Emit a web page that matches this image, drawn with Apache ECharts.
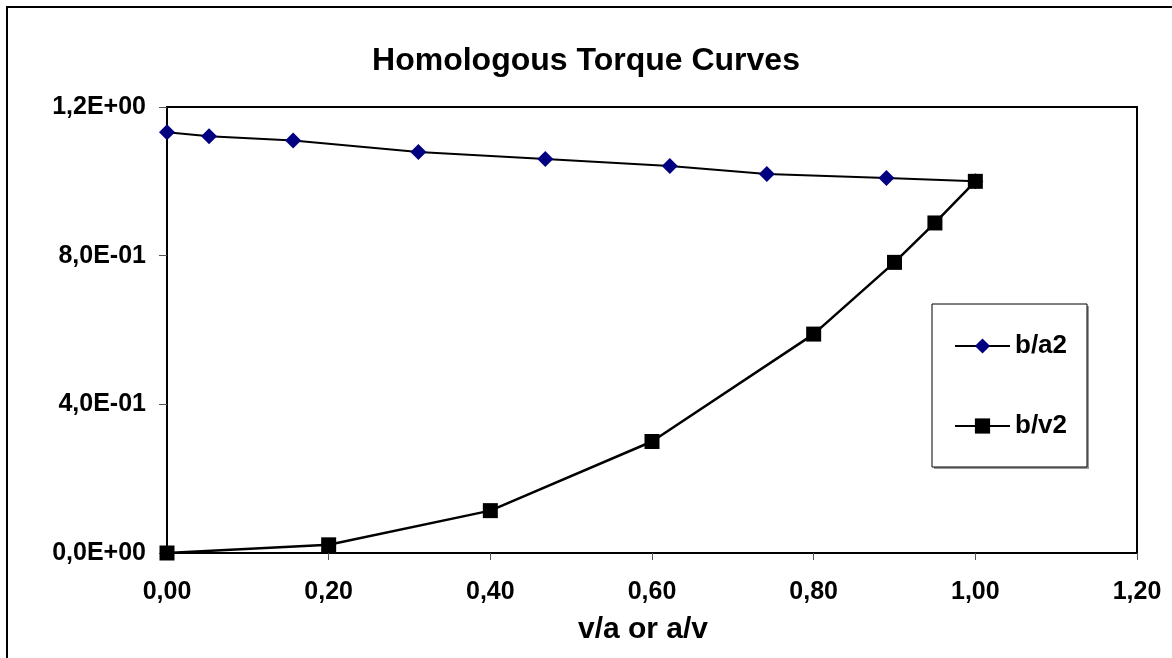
<!DOCTYPE html>
<html>
<head>
<meta charset="utf-8">
<script src="https://cdn.jsdelivr.net/npm/echarts@6/dist/echarts.min.js"></script>
<style>
  html, body { margin: 0; padding: 0; background: #fff; }
  #chart { width: 1172px; height: 658px; }
</style>
</head>
<body>
<div id="chart"></div>
<script>
// values
const baX = [0, 0.052, 0.156, 0.311, 0.468, 0.622, 0.742, 0.89, 1.0];
const baY = [1.132, 1.121, 1.11, 1.079, 1.06, 1.041, 1.02, 1.009, 1.0];
const bvX = [0, 0.2, 0.4, 0.6, 0.8, 0.9, 0.95, 1.0];
const bvY = [0, 0.022, 0.114, 0.3, 0.589, 0.782, 0.888, 1.0];
const xTicks = ['0,00', '0,20', '0,40', '0,60', '0,80', '1,00', '1,20'];
const yTicks = ['0,0E+00', '4,0E-01', '8,0E-01', '1,2E+00'];

const FONT = 'Liberation Sans, Arial, sans-serif';
const pairs = (xs, ys) => xs.map((x, i) => [x, ys[i]]);

const myChart = echarts.init(document.getElementById('chart'));
myChart.setOption({
  animation: false,
  backgroundColor: '#fff',
  title: {
    text: 'Homologous Torque Curves',
    left: 'center',
    top: 40,
    textStyle: { fontFamily: FONT, fontSize: 32, fontWeight: 'bold', color: '#000' }
  },
  graphic: [
    {
      type: 'rect',
      shape: { x: 7, y: 7, width: 1200, height: 700 },
      style: { fill: 'none', stroke: '#000', lineWidth: 2 }
    },
    {
      type: 'rect',
      shape: { x: 934, y: 306, width: 155, height: 163 },
      style: { fill: '#999' }
    },
    {
      type: 'rect',
      shape: { x: 932, y: 304, width: 155, height: 163 },
      style: { fill: '#fff', stroke: '#000', lineWidth: 1 }
    }
  ],
  legend: {
    orient: 'vertical',
    left: 954,
    top: 333,
    padding: 0,
    itemWidth: 55,
    itemHeight: 19,
    itemGap: 54,
    z: 10,
    textStyle: { fontFamily: FONT, fontSize: 26, fontWeight: 'bold', color: '#000', lineHeight: 26 },
    data: ['b/a2', 'b/v2']
  },
  grid: {
    left: 167,
    top: 107,
    right: 35,
    bottom: 105,
    show: true,
    borderColor: '#000',
    borderWidth: 2
  },
  xAxis: {
    type: 'value',
    min: 0,
    max: 1.2,
    interval: 0.2,
    name: 'v/a or a/v',
    nameLocation: 'middle',
    nameGap: 62,
    nameTextStyle: {
      fontFamily: FONT, fontSize: 30, fontWeight: 'bold', color: '#000',
      padding: [0, 18, 0, 0]
    },
    axisLine: { lineStyle: { color: '#000', width: 2 } },
    axisTick: { show: true, length: 7, lineStyle: { color: '#555', width: 1 } },
    axisLabel: {
      margin: 27,
      fontFamily: FONT, fontSize: 25, fontWeight: 'bold', color: '#000',
      formatter: (v) => xTicks[Math.round(v / 0.2)]
    },
    splitLine: { show: false }
  },
  yAxis: {
    type: 'value',
    min: 0,
    max: 1.2,
    interval: 0.4,
    axisLine: { show: true, lineStyle: { color: '#000', width: 2 } },
    axisTick: { show: true, length: 8, lineStyle: { color: '#555', width: 1 } },
    axisLabel: {
      margin: 21,
      fontFamily: FONT, fontSize: 25, fontWeight: 'bold', color: '#000',
      formatter: (v) => yTicks[Math.round(v / 0.4)]
    },
    splitLine: { show: false }
  },
  series: [
    {
      name: 'b/a2',
      type: 'line',
      data: pairs(baX, baY),
      symbol: 'diamond',
      symbolSize: 16,
      itemStyle: { color: '#000080' },
      lineStyle: { color: '#000', width: 2 },
      z: 3
    },
    {
      name: 'b/v2',
      type: 'line',
      data: pairs(bvX, bvY),
      symbol: 'rect',
      symbolSize: 15,
      itemStyle: { color: '#000' },
      lineStyle: { color: '#000', width: 2.5 },
      z: 4
    }
  ]
});
</script>
</body>
</html>
